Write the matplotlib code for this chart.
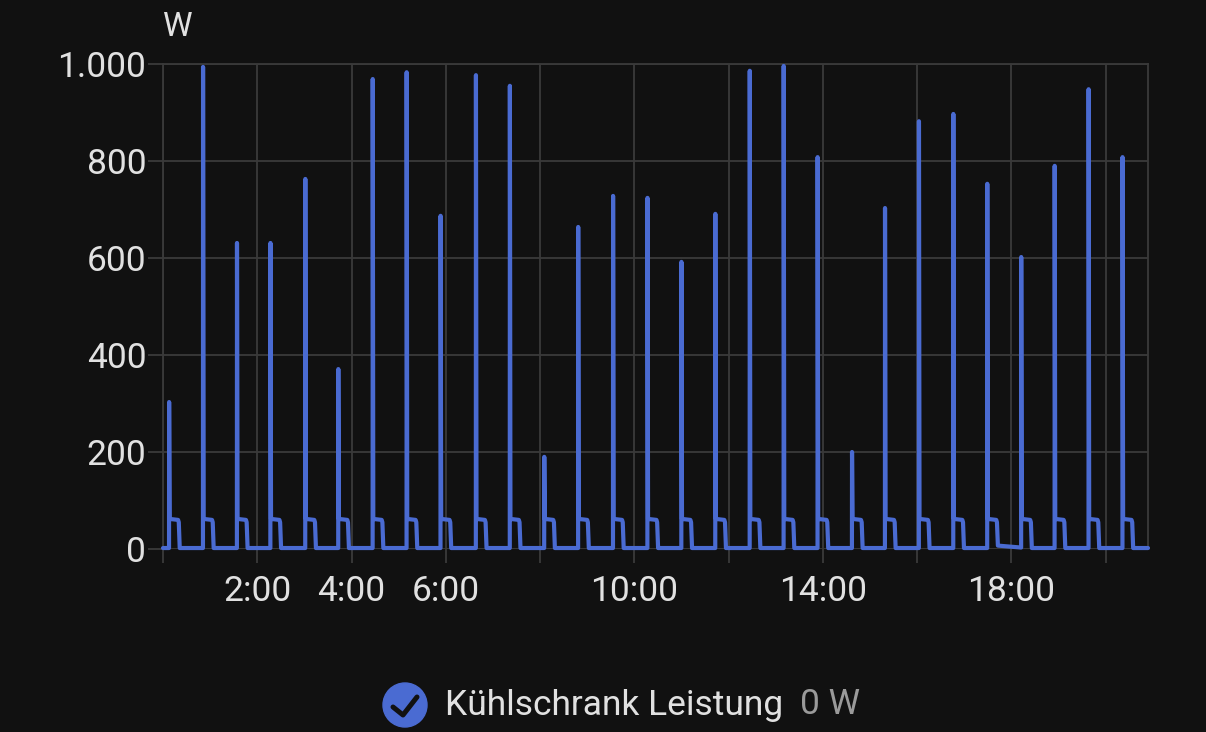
import matplotlib
matplotlib.use("Agg")
import matplotlib.pyplot as plt
from matplotlib.patches import Circle
from matplotlib.lines import Line2D
from matplotlib.transforms import IdentityTransform
from matplotlib.ticker import FixedLocator, FuncFormatter

# ---------------- data ----------------
spike_hours = [0.13, 0.85, 1.57, 2.28, 3.02, 3.72, 4.45, 5.17, 5.89, 6.64,
               7.36, 8.09, 8.81, 9.55, 10.28, 11.00, 11.72, 12.45, 13.17, 13.89,
               14.62, 15.32, 16.04, 16.77, 17.49, 18.21, 18.92, 19.64, 20.36]
spike_peaks = [303, 994, 631, 631, 763, 371, 969, 983, 687, 977,
               955, 190, 664, 728, 724, 592, 691, 986, 996, 808,
               200, 703, 882, 897, 753, 602, 790, 948, 808]
plateau_high = [62] * 29
plateau_low = [55] * 29
base_after = [2] * 24 + [7] + [2] * 4
base_after_end = [2] * 24 + [3] + [2] * 4
start_hour, end_hour = 0.0, 20.9
start_value, end_value = 2, 2

y_ticks = [0, 200, 400, 600, 800, 1000]
grid_hours = [0, 2, 4, 6, 8, 10, 12, 14, 16, 18, 20]
label_hours = [2, 4, 6, 10, 14, 18]
series_name = "Kühlschrank Leistung"
current_value = "0 W"
unit = "W"

# ---------------- build series ----------------
ts = [start_hour]
vs = [start_value]
for i, (h, p) in enumerate(zip(spike_hours, spike_peaks)):
    ts += [h - 0.002, h, h + 0.012, h + 0.19, h + 0.205, h + 0.225]
    vs += [vs[-1], p, plateau_high[i], plateau_high[i] - 2, plateau_low[i], base_after[i]]
    nxt = spike_hours[i + 1] if i + 1 < len(spike_hours) else end_hour
    ts += [nxt - 0.01]
    vs += [base_after_end[i]]
ts.append(end_hour)
vs.append(end_value)

# ---------------- style ----------------
BG = "#111111"
GRID = "#3a3a3a"
TXT = "#e1e1e1"
LINE = "#4a6bd2"
W, H = 1206, 732

plt.rcParams['font.family'] = ['Roboto', 'DejaVu Sans']

fig = plt.figure(figsize=(W / 100, H / 100), dpi=100, facecolor=BG)
ax = fig.add_axes([163 / W, (H - 549) / H, (1148 - 163) / W, (549 - 64) / H])
ax.set_facecolor(BG)

ax.plot(ts, vs, color=LINE, lw=3.0, solid_capstyle='round',
        solid_joinstyle='round', clip_on=False, zorder=3)

ax.set_xlim(start_hour, end_hour)
ax.set_ylim(0, 1000)

ax.yaxis.set_major_locator(FixedLocator(y_ticks))
ax.yaxis.set_major_formatter(FuncFormatter(lambda v, p: f"{int(v):,}".replace(",", ".")))
ax.xaxis.set_major_locator(FixedLocator(grid_hours))
ax.xaxis.set_major_formatter(FuncFormatter(
    lambda v, p: f"{int(round(v))}:00" if int(round(v)) in label_hours else ""))

ax.grid(True, color=GRID, lw=1.3)
ax.set_axisbelow(True)
for s in ax.spines.values():
    s.set_color(GRID)
    s.set_linewidth(1.3)
ax.spines['bottom'].set_visible(False)

ax.tick_params(axis='y', colors=GRID, labelcolor=TXT, labelsize=25.5,
               length=11, width=1.3, pad=1)
ax.tick_params(axis='x', colors=GRID, labelcolor=TXT, labelsize=25.5,
               length=10, width=1.3, pad=9)

# unit label
fig.text(178 / W, 1 - 27 / H, unit, color=TXT, fontsize=24, ha='center', va='center')

# legend
ident = IdentityTransform()
circ = Circle((405, H - 705), 22, transform=ident, color=LINE, zorder=5)
fig.patches.append(circ)
check = Line2D([393, 403, 417], [H - 707, H - 715, H - 697], transform=ident,
               color=BG, lw=3.6, solid_capstyle='round', solid_joinstyle='round', zorder=6)
fig.lines.append(check)
fig.text(445 / W, 1 - 705 / H, series_name, color=TXT, fontsize=25.5,
         ha='left', va='center')
fig.text(800 / W, 1 - 705 / H, current_value, color="#9a9a9a", fontsize=25.5,
         ha='left', va='center')

fig.savefig("out.png", dpi=100, facecolor=BG)
